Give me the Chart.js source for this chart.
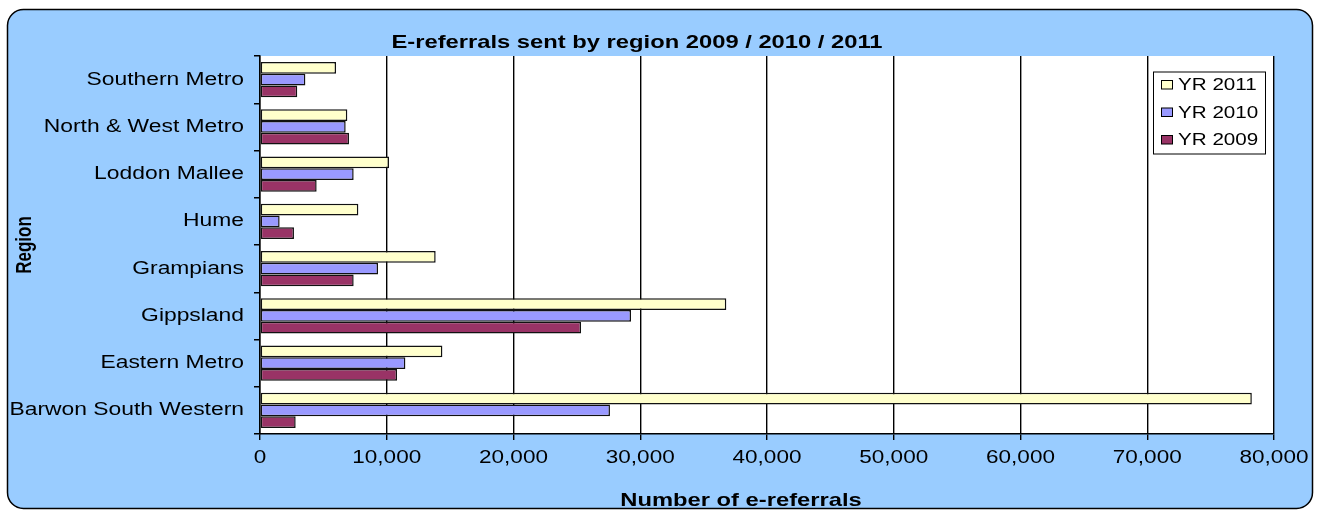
<!DOCTYPE html>
<html>
<head>
<meta charset="utf-8">
<script src="https://cdn.jsdelivr.net/npm/chart.js@4/dist/chart.umd.min.js"></script>
<style>
  html, body { margin: 0; padding: 0; background: #fff; }
  #wrap { width: 1323px; height: 510px; position: relative; }
</style>
</head>
<body>
<div id="wrap"><canvas id="chart" width="1323" height="510"></canvas></div>
<script>
// regions, top to bottom as in the chart
const regions = ['Southern Metro', 'North & West Metro', 'Loddon Mallee', 'Hume',
                 'Grampians', 'Gippsland', 'Eastern Metro', 'Barwon South Western'];

const yr2011 = [6000, 6890, 10180, 7760, 13860, 36790, 14390, 78250];
const yr2010 = [3580, 6760, 7390, 1550, 9310, 29270, 11470, 27610];
const yr2009 = [2940, 7020, 4470, 2680, 7390, 25330, 10810, 2815];

const seriesLabels = ['YR 2011', 'YR 2010', 'YR 2009'];
const seriesColors = ['#FFFFCC', '#9999FF', '#993366'];
const xAxisTitle = 'Number of e-referrals';

const FONT = 'Liberation Sans, Arial, sans-serif';
const STRETCH = 1.25; // the original picture's text is widened horizontally

const canvas = document.getElementById('chart');
const ctx = canvas.getContext('2d');

// widen every text draw around its anchor point (rotated text gets widened across)
const rawFillText = ctx.fillText.bind(ctx);
ctx.fillText = function (text, x, y) {
    const m = ctx.getTransform();
    ctx.save();
    ctx.translate(x, y);
    if (Math.abs(m.b) > 0.01) ctx.scale(1, STRETCH);
    else ctx.scale(STRETCH, 1);
    rawFillText(text, 0, 0);
    ctx.restore();
};

// light blue rounded panel behind everything, white plot area
const panelPlugin = {
    id: 'panel',
    beforeDraw(chart) {
        const c = chart.ctx;
        const a = chart.chartArea;
        c.save();
        c.beginPath();
        c.roundRect(7.5, 9.5, 1305, 499, 16);
        c.fillStyle = '#99CCFF';
        c.fill();
        c.lineWidth = 1.5;
        c.strokeStyle = '#000';
        c.stroke();
        c.fillStyle = '#fff';
        c.fillRect(a.left, a.top, a.right - a.left, a.bottom - a.top);
        c.restore();
    }
};

// legend box inside the plot (top right) and the x axis title, a bit left of centre
const legendBoxPlugin = {
    id: 'legendBox',
    afterDraw(chart) {
        const c = chart.ctx;
        const a = chart.chartArea;
        const right = a.right - 9;
        const left = right - 112;
        const top = a.top + 15.5;
        const rowH = 27.5;
        c.save();
        c.fillStyle = '#fff';
        c.fillRect(left, top, right - left, 82);
        c.lineWidth = 1;
        c.strokeStyle = '#000';
        c.strokeRect(left + 0.5, top + 0.5, right - left, 82);
        c.font = '16.5px ' + FONT;
        c.textBaseline = 'middle';
        c.textAlign = 'left';
        chart.data.datasets.forEach((ds, i) => {
            const cy = top + 13 + i * rowH;
            c.fillStyle = ds.backgroundColor;
            c.fillRect(left + 8.5, cy - 4, 11, 8.5);
            c.strokeStyle = '#000';
            c.strokeRect(left + 8.5, cy - 4, 11, 8.5);
            c.fillStyle = '#000';
            c.fillText(ds.label, left + 25, cy + 1);
        });

        c.font = 'bold 19px ' + FONT;
        c.textAlign = 'center';
        c.fillStyle = '#000';
        c.fillText(xAxisTitle, (a.left + a.right) / 2 - 26, a.bottom + 67);
        c.restore();
    }
};

const datasets = [yr2011, yr2010, yr2009].map((vals, i) => ({
    label: seriesLabels[i],
    data: vals,
    backgroundColor: seriesColors[i],
    borderColor: '#111',
    borderWidth: 1.5,
    borderSkipped: false,
    categoryPercentage: 0.75,
    barPercentage: 1.0
}));

new Chart(canvas, {
    type: 'bar',
    data: { labels: regions, datasets: datasets },
    plugins: [panelPlugin, legendBoxPlugin],
    options: {
        indexAxis: 'y',
        responsive: false,
        animation: false,
        layout: { padding: { left: 0, right: 49, top: 0, bottom: 0 } },
        plugins: {
            legend: { display: false },
            tooltip: { enabled: false },
            title: {
                display: true,
                text: 'E-referrals sent by region 2009 / 2010 / 2011',
                color: '#000',
                font: { family: FONT, size: 19, weight: 'bold', lineHeight: 1.2 },
                padding: { top: 31, bottom: 2.2 }
            }
        },
        scales: {
            x: {
                min: 0,
                max: 80000,
                ticks: {
                    stepSize: 10000,
                    color: '#000',
                    padding: 7,
                    font: { family: FONT, size: 18 },
                    callback: v => v.toLocaleString('en-US')
                },
                grid: { color: '#000', lineWidth: 1.4, tickLength: 6 },
                border: { color: '#000', width: 1.5 },
                afterFit: s => { s.height = 76; }
            },
            y: {
                ticks: {
                    color: '#000',
                    padding: 10,
                    font: { family: FONT, size: 18.3 }
                },
                grid: { drawOnChartArea: false, color: '#000', lineWidth: 1.5, tickLength: 6, offset: true },
                border: { color: '#000', width: 1.5 },
                title: {
                    display: true,
                    text: 'Region',
                    color: '#000',
                    font: { family: FONT, size: 17, weight: 'bold', lineHeight: 1.2 },
                    padding: { top: 15, bottom: 0 }
                },
                afterFit: s => { s.width = 260; }
            }
        }
    }
});
</script>
</body>
</html>
